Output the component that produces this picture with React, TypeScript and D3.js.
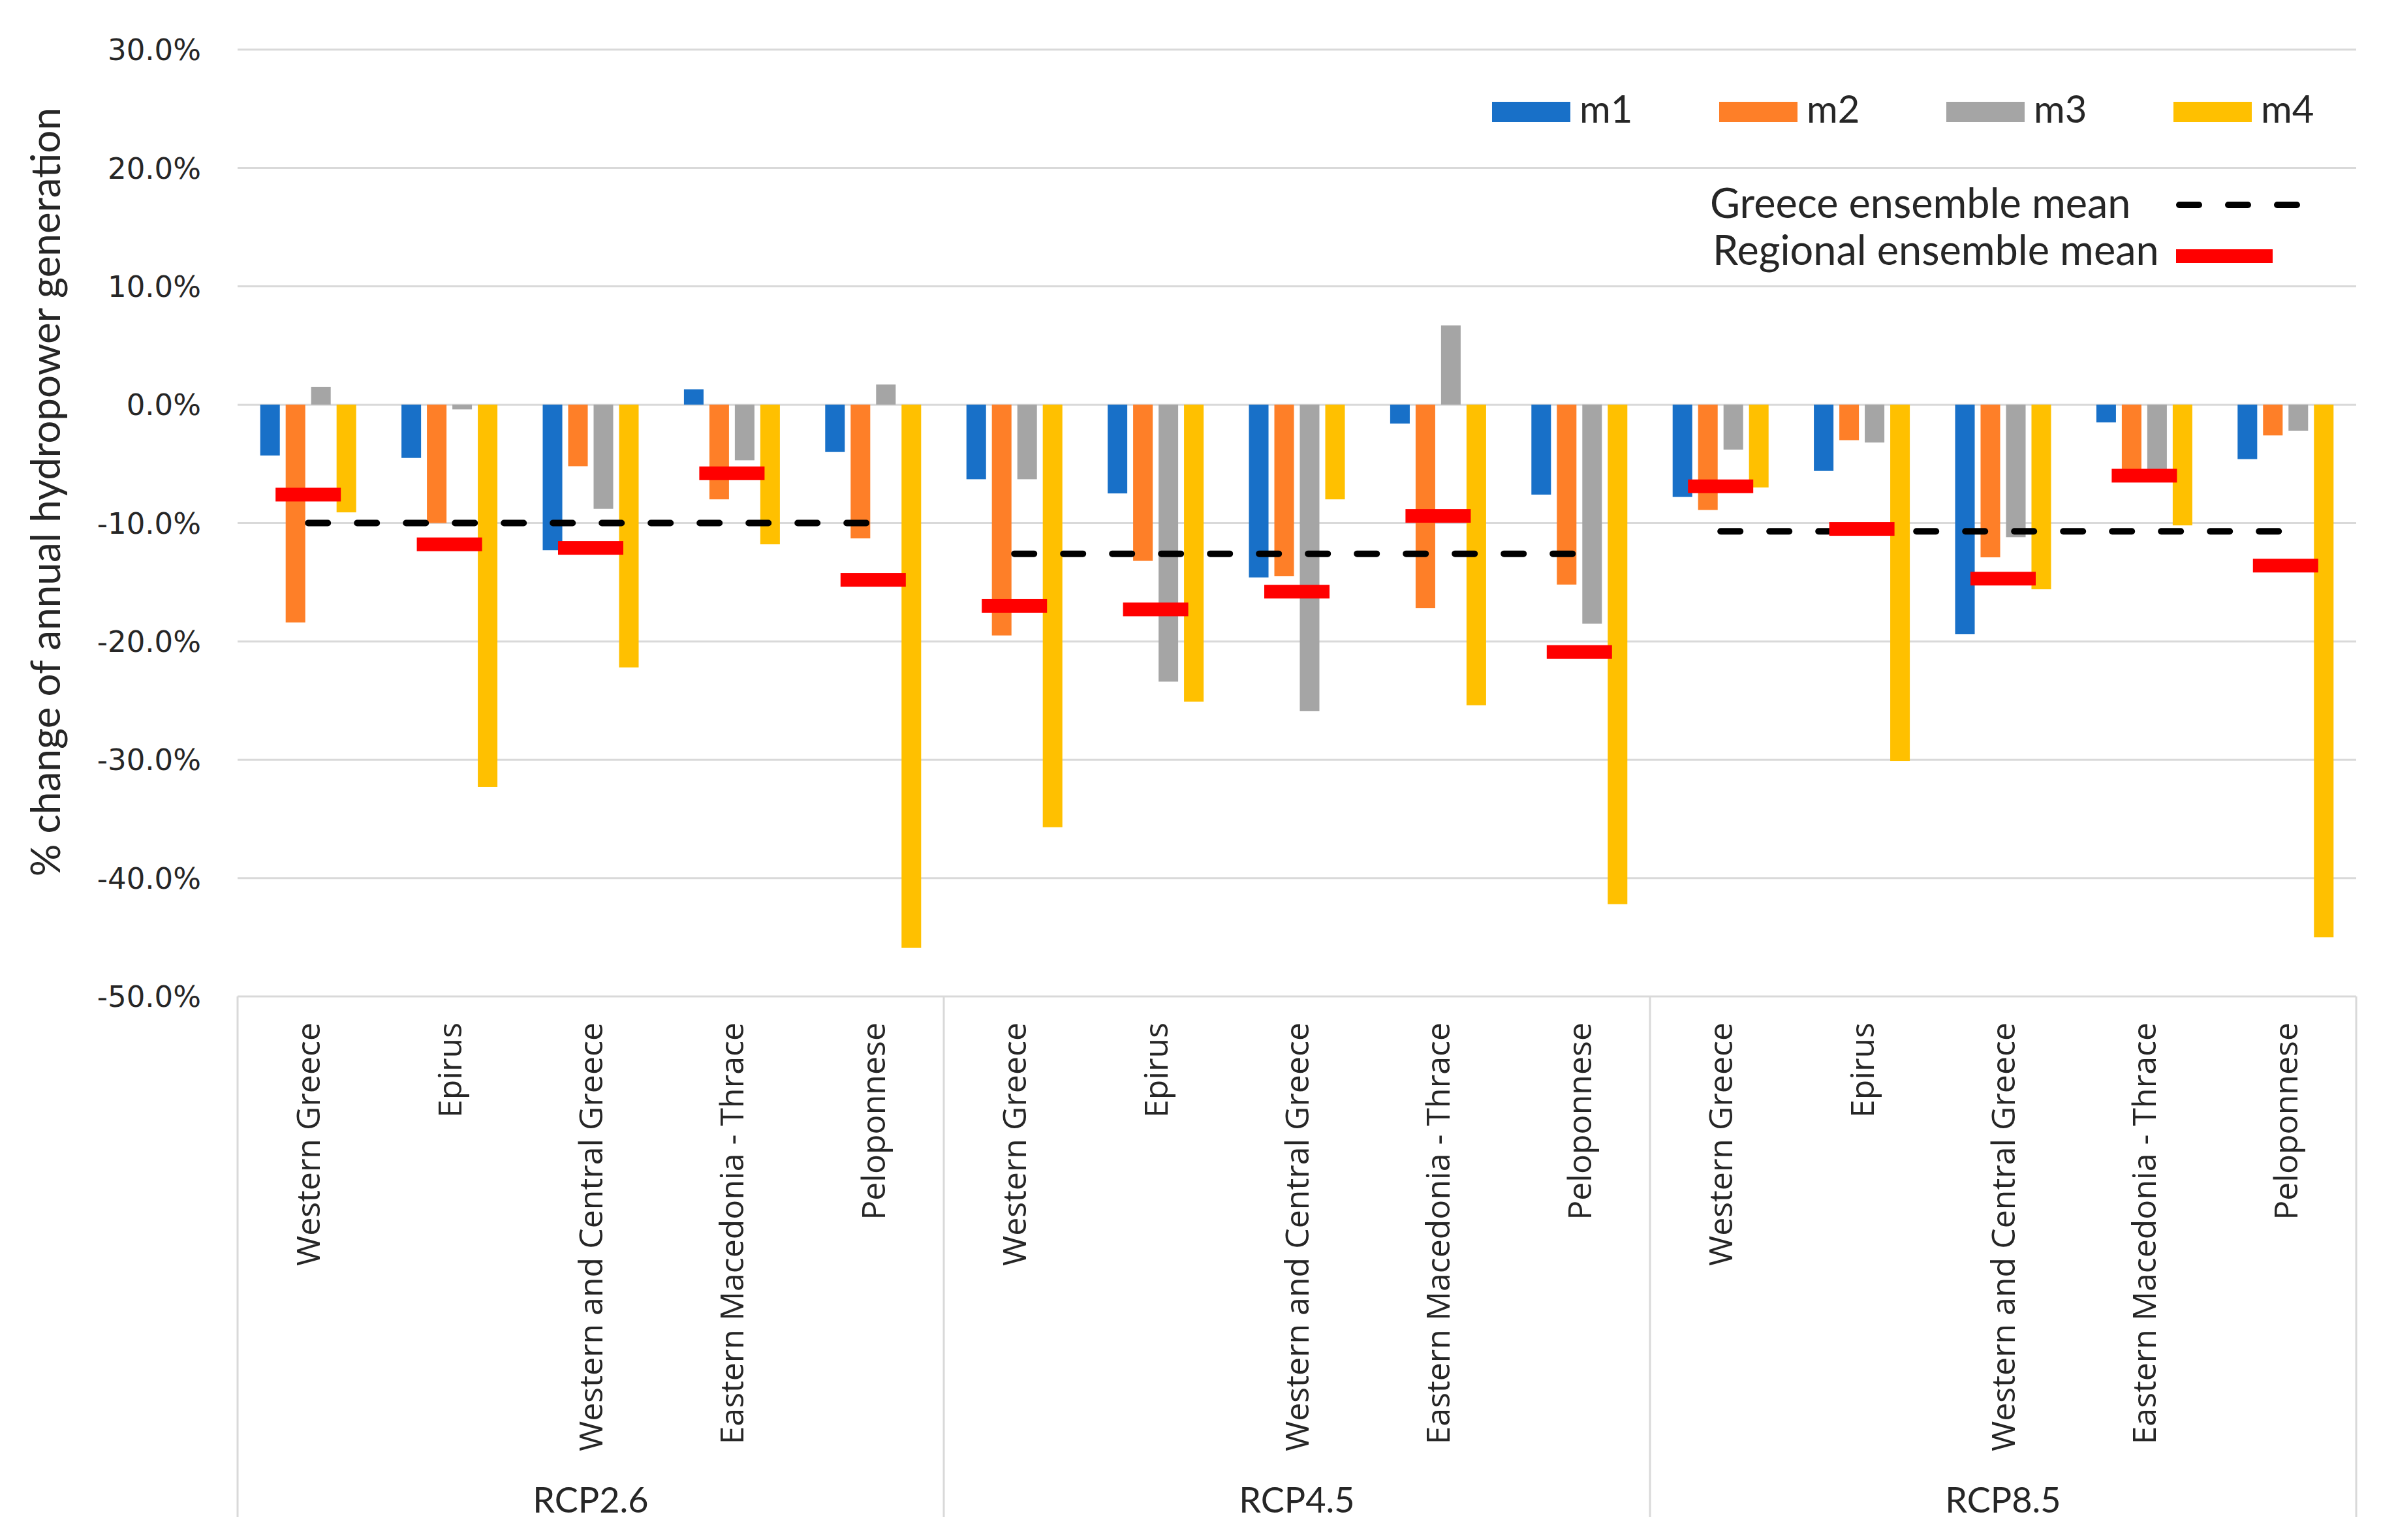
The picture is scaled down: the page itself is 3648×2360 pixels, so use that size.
import * as d3 from 'd3';

// scenario groups and regions
const scenarios = ['RCP2.6', 'RCP4.5', 'RCP8.5'];
const regions = [
  'Western Greece',
  'Epirus',
  'Western and Central Greece',
  'Eastern Macedonia - Thrace',
  'Peloponnese',
];
const seriesNames = ['m1', 'm2', 'm3', 'm4'];
const seriesColors = ['#1870C8', '#FE7F28', '#A5A5A5', '#FFC000'];

// % change per model, 15 values = 3 scenarios x 5 regions
const m1 = [-4.3, -4.5, -12.3, 1.3, -4.0, -6.3, -7.5, -14.6, -1.6, -7.6, -7.8, -5.6, -19.4, -1.5, -4.6];
const m2 = [-18.4, -10.0, -5.2, -8.0, -11.3, -19.5, -13.2, -14.5, -17.2, -15.2, -8.9, -3.0, -12.9, -6.0, -2.6];
const m3 = [1.5, -0.4, -8.8, -4.7, 1.7, -6.3, -23.4, -25.9, 6.7, -18.5, -3.8, -3.2, -11.2, -6.1, -2.2];
const m4 = [-9.1, -32.3, -22.2, -11.8, -45.9, -35.7, -25.1, -8.0, -25.4, -42.2, -7.0, -30.1, -15.6, -10.2, -45.0];
const regionalMean = [-7.6, -11.8, -12.1, -5.8, -14.8, -17.0, -17.3, -15.8, -9.4, -20.9, -6.9, -10.5, -14.7, -6.0, -13.6];
const greeceMean = [-10.0, -12.6, -10.7];

const yTicks = [30, 20, 10, 0, -10, -20, -30, -40, -50];

const W = 3648;
const H = 2360;
const plot = { left: 364, right: 3610, top: 76, bottom: 1527 };
const axisBottom = 2325;

const calibri = "Lato, 'Liberation Sans', sans-serif";
const segoe = "'Open Sans', 'Noto Sans', sans-serif";
const gothic = "'DejaVu Sans', sans-serif";

export default function App() {
  const series = [m1, m2, m3, m4];
  const keys = scenarios.flatMap((s) => regions.map((r) => `${s}|${r}`));

  const y = d3.scaleLinear().domain([-50, 30]).range([plot.bottom, plot.top]);
  const x0 = d3.scaleBand<string>().domain(keys).range([plot.left, plot.right]);
  const x1 = d3
    .scaleBand<string>()
    .domain(seriesNames)
    .range([0, x0.bandwidth()])
    .paddingInner(0.23)
    .paddingOuter(0.89);
  const xg = d3.scaleBand<string>().domain(scenarios).range([plot.left, plot.right]);

  const cx = (k: string) => (x0(k) as number) + x0.bandwidth() / 2;
  const dash = d3.line<[number, number]>();

  return (
    <svg
      width={W}
      height={H}
      viewBox={`0 0 ${W} ${H}`}
      style={{ position: 'absolute', left: 0, top: 0, background: '#fff' }}
    >
      <rect width={W} height={H} fill="#fff" />

      {/* gridlines */}
      {yTicks.map((t) => (
        <line key={t} x1={plot.left} x2={plot.right} y1={y(t)} y2={y(t)} stroke="#D9D9D9" strokeWidth={3} />
      ))}

      {/* y tick labels */}
      {yTicks.map((t) => (
        <text
          key={t}
          x={308}
          y={y(t)}
          dy="0.36em"
          textAnchor="end"
          fontFamily={gothic}
          fontSize={45}
          fill="#262626"
        >
          {`${t.toFixed(1)}%`}
        </text>
      ))}

      <text
        transform={`translate(70, 754) rotate(-90)`}
        textAnchor="middle"
        dy="0.35em"
        fontFamily={calibri}
        fontSize={62}
        fill="#262626"
      >
        % change of annual hydropower generation
      </text>

      {/* category axis box */}
      {[plot.left, ...scenarios.map((s) => (xg(s) as number) + xg.bandwidth())].map((xv, i) => (
        <line key={i} x1={xv} x2={xv} y1={plot.bottom} y2={axisBottom} stroke="#D9D9D9" strokeWidth={3} />
      ))}

      {/* bars */}
      {series.map((vals, si) =>
        vals.map((v, i) => {
          const k = keys[i];
          const bx = (x0(k) as number) + (x1(seriesNames[si]) as number);
          return (
            <rect
              key={`${si}-${i}`}
              x={bx}
              y={Math.min(y(v), y(0))}
              width={x1.bandwidth()}
              height={Math.abs(y(v) - y(0))}
              fill={seriesColors[si]}
            />
          );
        })
      )}

      {/* Greece ensemble mean */}
      {scenarios.map((s, gi) => {
        const first = keys[gi * regions.length];
        const last = keys[gi * regions.length + regions.length - 1];
        return (
          <path
            key={s}
            d={dash([
              [cx(first), y(greeceMean[gi])],
              [cx(last), y(greeceMean[gi])],
            ]) ?? ''}
            stroke="#000"
            strokeWidth={10}
            strokeDasharray="30 45"
            strokeLinecap="round"
            fill="none"
          />
        );
      })}

      {/* regional ensemble mean */}
      {regionalMean.map((v, i) => (
        <rect key={i} x={cx(keys[i]) - 50} y={y(v) - 10.5} width={100} height={21} fill="#FF0000" />
      ))}

      {/* region labels */}
      {keys.map((k) => (
        <text
          key={k}
          transform={`translate(${cx(k)}, 1567) rotate(-90)`}
          textAnchor="end"
          dy="0.36em"
          fontFamily={segoe}
          fontSize={50}
          fill="#262626"
        >
          {k.split('|')[1]}
        </text>
      ))}

      {/* scenario labels */}
      {scenarios.map((s) => (
        <text
          key={s}
          x={(xg(s) as number) + xg.bandwidth() / 2}
          y={2318}
          textAnchor="middle"
          fontFamily={calibri}
          fontSize={54}
          fill="#262626"
        >
          {s}
        </text>
      ))}

      {/* legend */}
      {seriesNames.map((n, i) => (
        <g key={n} transform={`translate(${2286 + i * 348}, 0)`}>
          <rect x={0} y={156} width={120} height={31} fill={seriesColors[i]} />
          <text x={134} y={188} fontFamily={calibri} fontSize={58} fill="#262626">
            {n}
          </text>
        </g>
      ))}
      <text x={2620} y={334} fontFamily={calibri} fontSize={63} fill="#262626">
        Greece ensemble mean
      </text>
      <path
        d={dash([
          [3339, 314],
          [3522, 314],
        ]) ?? ''}
        stroke="#000"
        strokeWidth={10}
        strokeDasharray="30 45"
        strokeLinecap="round"
        fill="none"
      />
      <text x={2624} y={406} fontFamily={calibri} fontSize={63} fill="#262626">
        Regional ensemble mean
      </text>
      <rect x={3334} y={382} width={148} height={21} fill="#FF0000" />
    </svg>
  );
}
